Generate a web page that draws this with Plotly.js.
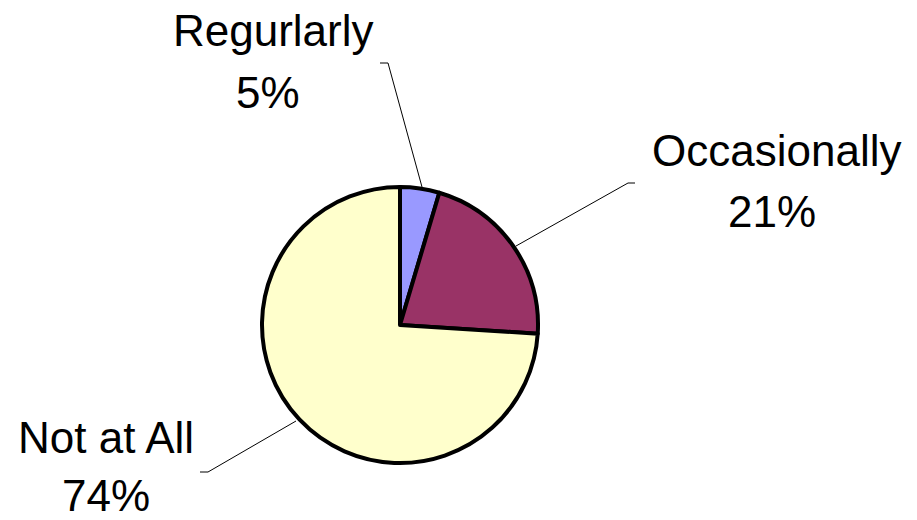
<!DOCTYPE html>
<html>
<head>
<meta charset="utf-8">
<script src="https://cdn.plot.ly/plotly-3.0.1.min.js"></script>
<style>html,body{margin:0;padding:0;background:#fff;}#chart{width:917px;height:520px;}</style>
</head>
<body>
<div id="chart"></div>
<script>
const categories = ['Regurlarly', 'Occasionally', 'Not at All'];
const values = [4.6, 21.4, 74.0];
const colors = ['#9999FF', '#993366', '#FFFFCC'];

const W = 917, H = 520;
const px = x => x / W;
const py = y => 1 - y / H;

// label placement (pixel centers) for name and percentage lines
const namePos = [[273, 30], [776, 150], [106, 437]];
const pctPos = [[268, 92], [772, 211], [106, 495]];
// leader lines: [label end, elbow, slice edge]
const leaders = [
  [[380, 63], [388, 63], [422, 187]],
  [[635, 183], [628, 183], [516, 246]],
  [[200, 472], [208, 472], [296, 421]]
];

const total = values.reduce((a, b) => a + b, 0);
const annotations = [];
categories.forEach((c, i) => {
  annotations.push({xref: 'paper', yref: 'paper', x: px(namePos[i][0]), y: py(namePos[i][1]),
    xanchor: 'center', yanchor: 'middle', showarrow: false, text: c,
    font: {family: 'Liberation Sans, Arial, sans-serif', size: 44, color: '#000'}});
  annotations.push({xref: 'paper', yref: 'paper', x: px(pctPos[i][0]), y: py(pctPos[i][1]),
    xanchor: 'center', yanchor: 'middle', showarrow: false, height: 40,
    text: Math.round(values[i] / total * 100) + '%',
    font: {family: 'Liberation Sans, Arial, sans-serif', size: 44, color: '#000'}});
});

const shapes = leaders.map(l => ({
  type: 'path', xref: 'paper', yref: 'paper',
  path: 'M ' + l.map(p => px(p[0]) + ',' + py(p[1])).join(' L '),
  line: {color: '#000', width: 1}
}));

const cx = 400, cy = 325, r = 138;
const data = [{
  type: 'pie',
  labels: categories,
  values: values,
  sort: false,
  direction: 'clockwise',
  rotation: 0,
  textinfo: 'none',
  hoverinfo: 'label+percent',
  marker: {colors: colors, line: {color: '#000', width: 4}},
  domain: {x: [px(cx - r), px(cx + r)], y: [py(cy + r), py(cy - r)]}
}];

const layout = {
  width: W, height: H,
  margin: {l: 0, r: 0, t: 0, b: 0},
  paper_bgcolor: '#fff',
  showlegend: false,
  annotations: annotations,
  shapes: shapes
};

Plotly.newPlot('chart', data, layout, {displayModeBar: false, staticPlot: true});
</script>
</body>
</html>
